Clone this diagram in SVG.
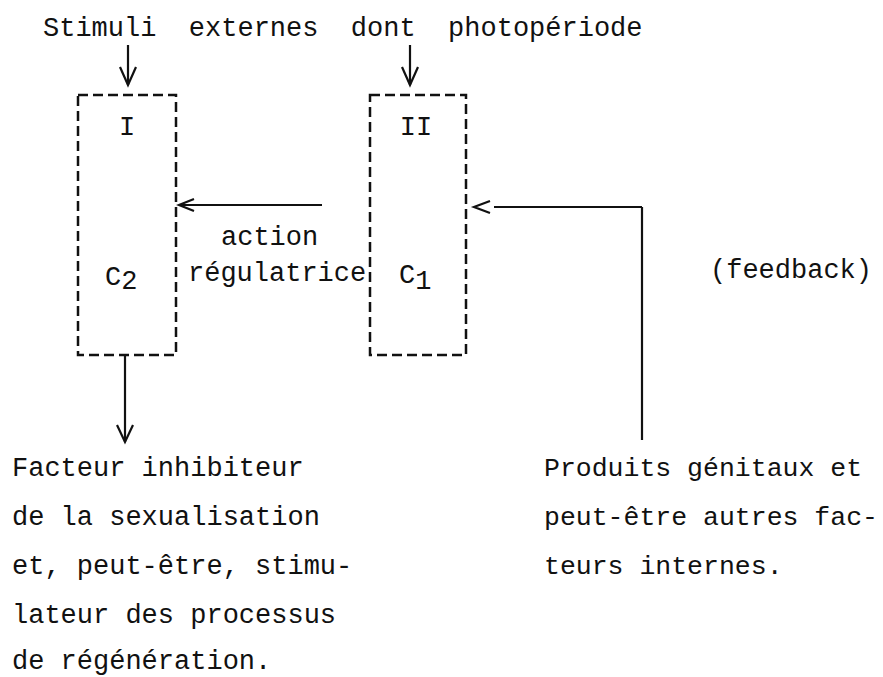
<svg xmlns="http://www.w3.org/2000/svg" width="883" height="677" viewBox="0 0 883 677">
<defs>
<style>
text{font-family:"Liberation Mono","DejaVu Sans Mono",monospace;font-size:27px;fill:#111;white-space:pre;}
.box{fill:none;stroke:#111;stroke-width:2.5;stroke-dasharray:10 5;}
.ln{fill:none;stroke:#111;stroke-width:2.2;}
.hd{fill:none;stroke:#111;stroke-width:2.2;stroke-linejoin:miter;}
.r{font-size:26.5px;}
</style>
</defs>
<rect width="883" height="677" fill="#fff"/>
<g id="title"><text x="43" y="36" xml:space="preserve">Stimuli  externes  dont  photopériode</text></g>
<g id="node-I">
<rect class="box" x="78" y="95" width="98" height="260"/>
<text x="127" y="135" text-anchor="middle">I</text>
<text x="105" y="285">C<tspan dy="4">2</tspan></text>
</g>
<g id="node-II">
<rect class="box" x="370" y="95" width="96" height="260"/>
<text x="416" y="135" text-anchor="middle">II</text>
<text x="399" y="283">C<tspan dy="6">1</tspan></text>
</g>
<g id="label-action">
<text x="221" y="245">action</text>
<text x="188" y="281">régulatrice</text>
</g>
<g id="label-feedback"><text x="710" y="278">(feedback)</text></g>
<g id="text-left">
<text x="12" y="476">Facteur inhibiteur</text>
<text x="12" y="525">de la sexualisation</text>
<text x="12" y="574">et, peut-être, stimu-</text>
<text x="12" y="623">lateur des processus</text>
<text x="12" y="669">de régénération.</text>
</g>
<g id="text-right">
<text class="r" x="544" y="476">Produits génitaux et</text>
<text class="r" x="544" y="525">peut-être autres fac-</text>
<text class="r" x="544" y="574">teurs internes.</text>
</g>
<g id="connectors">
<path class="ln" d="M128 45V85"/>
<path class="hd" d="M120 67L128 85L136 67"/>
<path class="ln" d="M410 45V85"/>
<path class="hd" d="M402 67L410 85L418 67"/>
<path class="ln" d="M322 205H179"/>
<path class="hd" d="M194 199L179 205L194 211"/>
<path class="ln" d="M642 207H494"/>
<path class="hd" d="M490 201L474 207L490 213"/>
<path class="ln" d="M642 207V440"/>
<path class="ln" d="M125 355V442"/>
<path class="hd" d="M117 425L125 442L133 425"/>
</g>
</svg>
